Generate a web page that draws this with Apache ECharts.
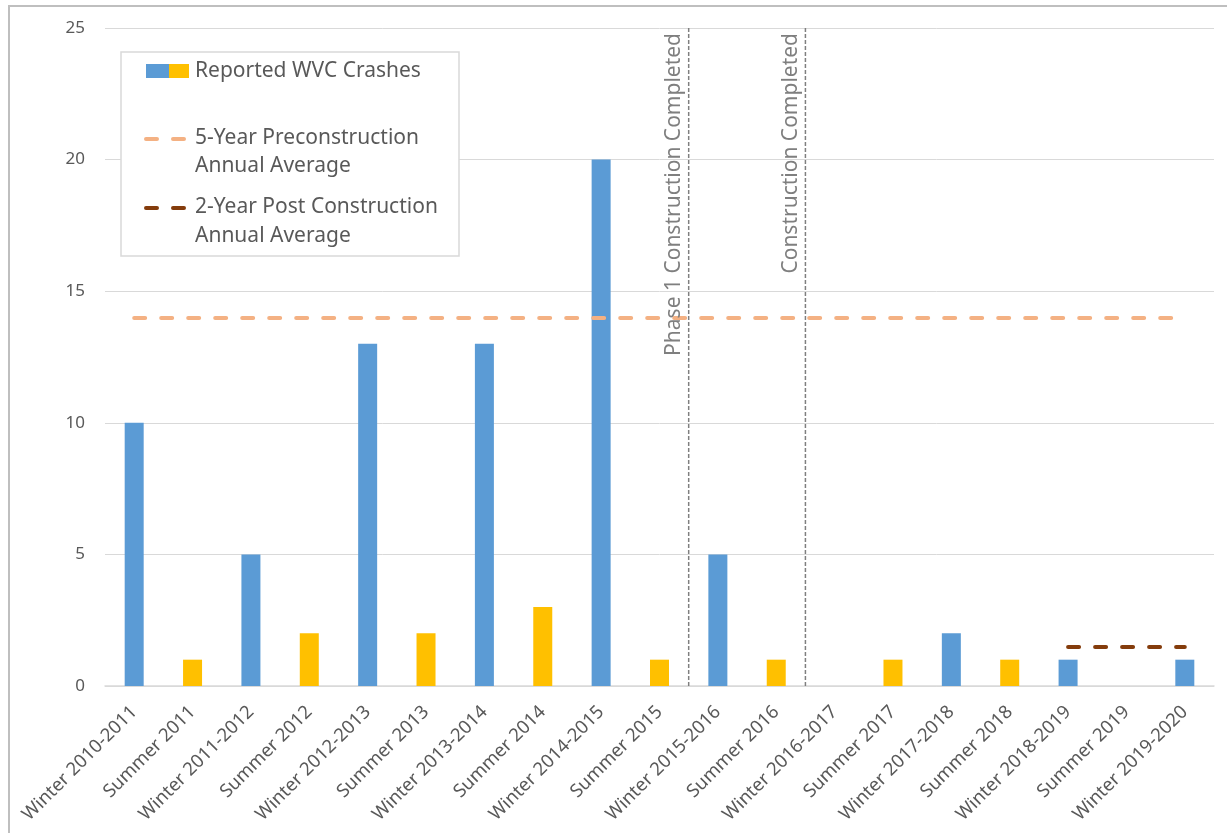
<!DOCTYPE html>
<html>
<head>
<meta charset="utf-8">
<script src="https://cdn.jsdelivr.net/npm/echarts@6/dist/echarts.min.js"></script>
<style>
html,body{margin:0;padding:0;background:#fff;}
#chart{width:1227px;height:833px;}
</style>
</head>
<body>
<div id="chart"></div>
<script>
const categories = ["Winter 2010-2011","Summer 2011","Winter 2011-2012","Summer 2012","Winter 2012-2013","Summer 2013","Winter 2013-2014","Summer 2014","Winter 2014-2015","Summer 2015","Winter 2015-2016","Summer 2016","Winter 2016-2017","Summer 2017","Winter 2017-2018","Summer 2018","Winter 2018-2019","Summer 2019","Winter 2019-2020"];
const crashes = [10,1,5,2,13,2,13,3,20,1,5,1,0,1,2,1,1,0,1];
const yTicks = [0,5,10,15,20,25];
const preAvg = 14;
const preRange = ["Winter 2010-2011","Winter 2019-2020"];
const postAvg = 1.5;
const postRange = ["Winter 2018-2019","Winter 2019-2020"];
const milestones = [
  {pos: 9.5, label: "Phase 1 Construction Completed"},
  {pos: 11.5, label: "Construction Completed"}
];
const legendLabels = ["Reported WVC Crashes","5-Year Preconstruction","Annual Average","2-Year Post Construction","Annual Average"];

const BLUE = "#5B9BD5", GOLD = "#FFC000", PRE = "#F4B183", POST = "#843C0C", GRAY = "#7F7F7F";
const FONT = "Noto Sans";

const chart = echarts.init(document.getElementById('chart'));

const milestoneSeries = milestones.map(m => ({
  type: 'line', xAxisIndex: 1, yAxisIndex: 0, symbol: 'none', silent: true,
  data: [[m.pos, yTicks[0]], [m.pos, yTicks[yTicks.length-1]]],
  lineStyle: {color: GRAY, width: 1.5, type: [4, 2]},
  z: 3
}));

chart.setOption({
  animation: false,
  grid: {left: 105, right: 13, top: 28, bottom: 147, containLabel: false},
  xAxis: [{
    type: 'category', data: categories,
    axisLine: {lineStyle: {color: '#D9D9D9', width: 1.5}},
    axisTick: {show: false},
    axisLabel: {interval: 0, rotate: 45, fontFamily: FONT, fontSize: 18.5, color: '#595959', margin: 23}
  }, {
    type: 'value', min: -0.5, max: categories.length - 0.5, show: false
  }],
  yAxis: {
    type: 'value', min: yTicks[0], max: yTicks[yTicks.length-1], interval: yTicks[1]-yTicks[0],
    axisLine: {show: false}, axisTick: {show: false},
    axisLabel: {fontFamily: FONT, fontSize: 17, color: '#595959', margin: 20},
    splitLine: {lineStyle: {color: '#D9D9D9', width: 1}}
  },
  series: [{
    type: 'bar', name: 'Reported WVC Crashes', barWidth: 19,
    data: crashes.map((v, i) => ({value: v, itemStyle: {color: categories[i].startsWith('Winter') ? BLUE : GOLD}})),
    markLine: {
      silent: true, symbol: 'none', label: {show: false},
      data: [
        [{coord: [preRange[0], preAvg], lineStyle: {color: PRE, width: 4, type: [11, 16], cap: 'round'}}, {coord: [preRange[1], preAvg]}],
        [{coord: [postRange[0], postAvg], lineStyle: {color: POST, width: 4, type: [11, 16], cap: 'round'}}, {coord: [postRange[1], postAvg]}]
      ]
    },
    z: 2
  }].concat(milestoneSeries)
});

const texts = milestones.map(m => {
  const p = chart.convertToPixel({xAxisIndex: 1, yAxisIndex: 0}, [m.pos, yTicks[yTicks.length-1]]);
  return {
    type: 'text', x: p[0] - 4, y: p[1] + 5, rotation: Math.PI/2,
    style: {text: m.label, fontFamily: FONT, fontSize: 21, fill: GRAY, align: 'right', verticalAlign: 'bottom'},
    z: 10
  };
});

const legendItems = [
  {type: 'rect', shape: {x: 121, y: 52, width: 338, height: 204}, style: {fill: '#fff', stroke: '#D9D9D9', lineWidth: 1.5}, z: 20},
  {type: 'rect', shape: {x: 146, y: 64, width: 23, height: 14}, style: {fill: BLUE}, z: 21},
  {type: 'rect', shape: {x: 169, y: 64, width: 20, height: 14}, style: {fill: GOLD}, z: 21},
  {type: 'line', shape: {x1: 146, y1: 139, x2: 186, y2: 139}, style: {stroke: PRE, lineWidth: 4, lineDash: [11, 16], lineCap: 'round'}, z: 21},
  {type: 'line', shape: {x1: 146, y1: 208, x2: 186, y2: 208}, style: {stroke: POST, lineWidth: 4, lineDash: [11, 16], lineCap: 'round'}, z: 21},
];
const legendY = [71, 138, 166, 207, 236];
legendLabels.forEach((t, i) => {
  legendItems.push({type: 'text', x: 195, y: legendY[i], style: {text: t, fontFamily: FONT, fontSize: 21, fill: '#595959', verticalAlign: 'middle'}, z: 21});
});

chart.setOption({
  graphic: [
    {type: 'rect', shape: {x: 9, y: 6, width: 1400, height: 1000}, style: {fill: 'none', stroke: '#BFBFBF', lineWidth: 2}, z: 30}
  ].concat(texts, legendItems)
});
</script>
</body>
</html>
